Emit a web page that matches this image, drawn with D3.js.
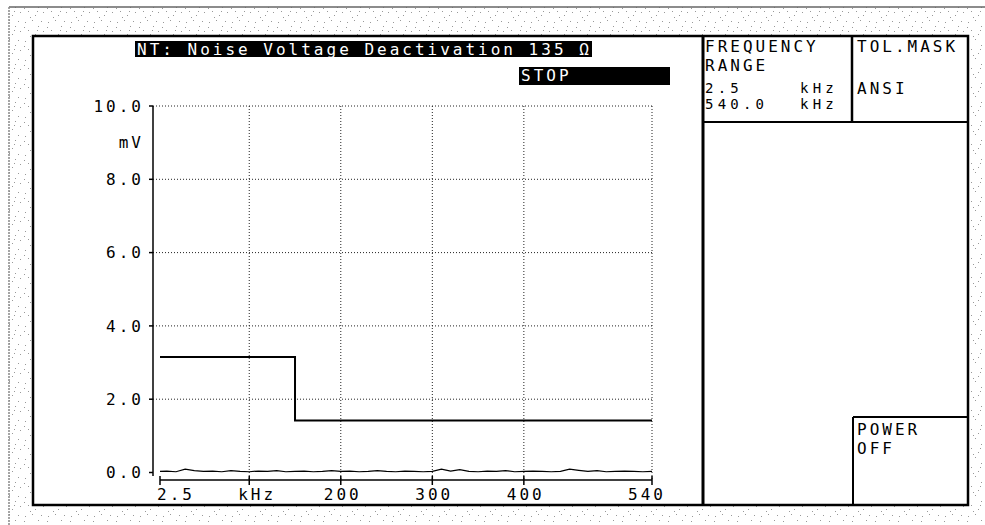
<!DOCTYPE html>
<html><head><meta charset="utf-8">
<script src="https://cdn.jsdelivr.net/npm/d3@7"></script>
<style>
html,body{margin:0;padding:0;background:#fff;}
text{font-family:"DejaVu Sans Mono","Liberation Mono",monospace;font-size:16px;letter-spacing:3px;fill:#000;}
text.sm{font-size:14px;letter-spacing:4.2px;}
</style></head>
<body><svg id="c" width="985" height="525"></svg>
<script>
// ---- data ----
const titleText = "NT: Noise Voltage Deactivation 135 Ω";
const statusText = "STOP";
const yTicks = [0, 2, 4, 6, 8, 10];
const yTickLabels = ["0.0", "2.0", "4.0", "6.0", "8.0", "10.0"];
const yUnit = "mV";
const yUnitValue = 9;
const xTicks = [2.5, 100, 200, 300, 400, 540];
const xTickLabels = ["2.5", "kHz", "200", "300", "400", "540"];
const xGrid = [100, 200, 300, 400, 540];
const yGrid = [2, 4, 6, 8, 10];
const maskFreq = [2.5, 150, 150, 540];
const maskVal = [3.15, 3.15, 1.42, 1.42];
const noiseFreq = [2.5,10,20,30,40,50,60,70,80,90,100,110,120,130,140,150,160,170,180,190,200,210,220,230,240,250,260,270,280,290,300,310,320,330,340,350,360,370,380,390,400,410,420,430,440,450,460,470,480,490,500,510,520,530,540];
const noiseVal = [0.03,0.04,0.02,0.09,0.05,0.03,0.04,0.02,0.05,0.03,0.02,0.04,0.03,0.05,0.02,0.03,0.04,0.02,0.03,0.05,0.03,0.04,0.02,0.03,0.05,0.03,0.02,0.04,0.03,0.02,0.03,0.09,0.04,0.08,0.03,0.02,0.04,0.03,0.05,0.02,0.03,0.04,0.03,0.02,0.03,0.09,0.06,0.03,0.05,0.02,0.03,0.04,0.03,0.02,0.03];
const panelFreqTitle = ["FREQUENCY", "RANGE"];
const panelFreqVals = ["2.5", "540.0"];
const panelFreqUnit = "kHz";
const panelMaskTitle = "TOL.MASK";
const panelMaskVal = "ANSI";
const panelPower = ["POWER", "OFF"];

// ---- drawing ----
const svg = d3.select("#c");
const defs = svg.append("defs");
const pat = defs.append("pattern").attr("id","stip").attr("patternUnits","userSpaceOnUse")
  .attr("width",23).attr("height",19);
[[2,3],[9,1],[15,7],[20,12],[5,11],[12,15],[18,2],[7,17],[1,8],[14,11]].forEach(p=>{
  pat.append("rect").attr("x",p[0]).attr("y",p[1]).attr("width",1).attr("height",1).attr("fill","#999");
});

// scanned margin
svg.append("rect").attr("x",9).attr("y",7).attr("width",973).attr("height",516).attr("fill","url(#stip)");
svg.append("line").attr("x1",9).attr("x2",985).attr("y1",7).attr("y2",7).attr("stroke","#666").attr("stroke-width",1.5);
svg.append("line").attr("x1",9).attr("x2",9).attr("y1",7).attr("y2",525).attr("stroke","#888").attr("stroke-width",1.5).attr("stroke-dasharray","2 1");
svg.append("rect").attr("x",33).attr("y",36).attr("width",935).attr("height",469).attr("fill","#fff")
  .attr("stroke","#000").attr("stroke-width",2.5);

const x = d3.scaleLinear().domain([2.5, 540]).range([160, 652]);
const y = d3.scaleLinear().domain([0, 10]).range([472.5, 106]);

// grid
const g = svg.append("g");
g.selectAll(".hg").data(yGrid).join("line")
  .attr("x1",153).attr("x2",652).attr("y1",d=>y(d)).attr("y2",d=>y(d))
  .attr("stroke","#222").attr("stroke-width",1).attr("stroke-dasharray","1 2");
g.selectAll(".vg").data(xGrid).join("line")
  .attr("x1",d=>x(d)).attr("x2",d=>x(d)).attr("y1",y(10)).attr("y2",480)
  .attr("stroke","#222").attr("stroke-width",1).attr("stroke-dasharray","1 2");

// y axis
g.append("line").attr("x1",153).attr("x2",153).attr("y1",y(10)).attr("y2",476).attr("stroke","#000").attr("stroke-width",1.5);
g.selectAll(".yt").data(yTicks).join("line")
  .attr("x1",149).attr("x2",153).attr("y1",d=>y(d)).attr("y2",d=>y(d)).attr("stroke","#000").attr("stroke-width",1.5);
g.selectAll(".yl").data(yTicks).join("text")
  .attr("x",144).attr("y",d=>y(d)).attr("dy","0.36em").attr("text-anchor","end")
  .text((d,i)=>yTickLabels[i]);
g.append("text").attr("x",144).attr("y",y(yUnitValue)).attr("dy","0.36em").attr("text-anchor","end").text(yUnit);

// x axis
g.append("line").attr("x1",x(2.5)).attr("x2",x(540)).attr("y1",480).attr("y2",480).attr("stroke","#000").attr("stroke-width",1.5);
g.selectAll(".xt").data(xTicks).join("line")
  .attr("x1",d=>x(d)).attr("x2",d=>x(d)).attr("y1",476).attr("y2",485).attr("stroke","#000").attr("stroke-width",1.5);
g.selectAll(".xl").data(xTicks).join("text")
  .attr("x",(d,i)=> i===0 ? x(d)-3 : (i===1 ? x(d)-11 : (i===xTicks.length-1 ? x(d)-24 : x(d)-17)))
  .attr("y",500).attr("text-anchor","start")
  .text((d,i)=>xTickLabels[i]);

// traces
const line = d3.line().x(d=>x(d[0])).y(d=>y(d[1]));
g.append("path").datum(noiseFreq.map((f,i)=>[f,noiseVal[i]]))
  .attr("d",line).attr("fill","none").attr("stroke","#000").attr("stroke-width",1.2);
g.append("path").datum(maskFreq.map((f,i)=>[f,maskVal[i]]))
  .attr("d",line).attr("fill","none").attr("stroke","#000").attr("stroke-width",2);

// title & status
svg.append("rect").attr("x",135).attr("y",41).attr("width",457).attr("height",16).attr("fill","#000");
svg.append("text").attr("x",137).attr("y",54.5).style("fill","#fff").text(titleText);
svg.append("rect").attr("x",519).attr("y",67).attr("width",151).attr("height",18).attr("fill","#000");
svg.append("text").attr("x",521).attr("y",81).style("fill","#fff").text(statusText);

// right panel lines
const P = svg.append("g").attr("stroke","#000");
P.append("line").attr("x1",703).attr("x2",703).attr("y1",36).attr("y2",505).attr("stroke-width",3);
P.append("line").attr("x1",852).attr("x2",852).attr("y1",36).attr("y2",122).attr("stroke-width",2.5);
P.append("line").attr("x1",703).attr("x2",968).attr("y1",122).attr("y2",122).attr("stroke-width",2);
P.append("line").attr("x1",853).attr("x2",853).attr("y1",417).attr("y2",505).attr("stroke-width",2);
P.append("line").attr("x1",853).attr("x2",968).attr("y1",417).attr("y2",417).attr("stroke-width",2);

// right panel text
const T = svg.append("g");
panelFreqTitle.forEach((t,i)=>T.append("text").attr("x",705).attr("y",[52,71][i]).text(t));
panelFreqVals.forEach((t,i)=>{
  T.append("text").attr("class","sm").attr("x",705).attr("y",[93,109][i]).text(t);
  T.append("text").attr("class","sm").attr("x",800).attr("y",[93,109][i]).text(panelFreqUnit);
});
T.append("text").attr("x",857).attr("y",52).text(panelMaskTitle);
T.append("text").attr("x",857).attr("y",94).text(panelMaskVal);
panelPower.forEach((t,i)=>T.append("text").attr("x",857).attr("y",[435,454][i]).text(t));
</script></body></html>
